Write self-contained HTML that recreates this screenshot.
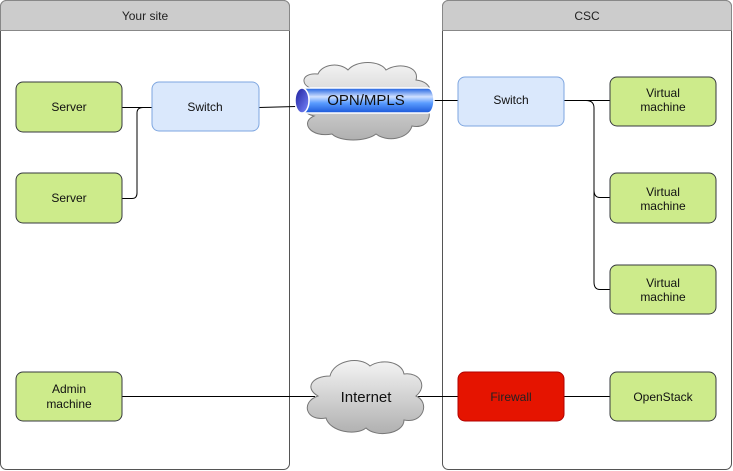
<!DOCTYPE html>
<html><head><meta charset="utf-8"><style>
html,body{margin:0;padding:0;background:#fff;}
svg{display:block;font-family:"Liberation Sans",Arial,sans-serif;}
</style></head><body>
<svg width="733" height="471" viewBox="0 0 733 471" xmlns="http://www.w3.org/2000/svg">
<defs>
<linearGradient id="cg" x1="0" y1="0" x2="0" y2="1">
<stop offset="0" stop-color="#f4f4f4"/><stop offset="1" stop-color="#b0b0b0"/></linearGradient>
<linearGradient id="pg" x1="0" y1="0" x2="0" y2="1">
<stop offset="0" stop-color="#1a5ee0"/><stop offset="0.35" stop-color="#cfe0ff"/><stop offset="0.6" stop-color="#5a9cff"/><stop offset="1" stop-color="#1a56d8"/></linearGradient>
<linearGradient id="eg" x1="0" y1="0" x2="1" y2="1">
<stop offset="0" stop-color="#1d1d9a"/><stop offset="1" stop-color="#7a8aff"/></linearGradient>
</defs>
<!-- containers -->
<rect x="0.5" y="0.5" width="289" height="469" rx="6" fill="#fff" stroke="#555"/>
<path d="M0.5 30.5 V6.5 A6 6 0 0 1 6.5 0.5 H283.5 A6 6 0 0 1 289.5 6.5 V30.5 Z" fill="#cccccc" stroke="#888"/>
<text x="145" y="20" font-size="12" text-anchor="middle" fill="#222">Your site</text>
<rect x="442.5" y="0.5" width="289" height="469" rx="6" fill="#fff" stroke="#555"/>
<path d="M442.5 30.5 V6.5 A6 6 0 0 1 448.5 0.5 H725.5 A6 6 0 0 1 731.5 6.5 V30.5 Z" fill="#cccccc" stroke="#888"/>
<text x="587" y="20" font-size="12" text-anchor="middle" fill="#222">CSC</text>
<!-- connectors -->
<g fill="none" stroke="#000" stroke-width="1">
<path d="M122 107.5 H152"/>
<path d="M122 198.5 H132 Q137 198.5 137 193 V113 Q137 107.5 143 107.5 H152"/>
<path d="M259 107.5 L296 106.5"/>
<path d="M433 100.5 H458"/>
<path d="M564 100.5 H610"/>
<path d="M586 100.5 Q594 100.5 594 108 V190 Q594 197.5 600 197.5 H610"/>
<path d="M594 190 V282 Q594 289.5 600 289.5 H610"/>
<path d="M122 396.5 H315"/>
<path d="M418 396.5 H458"/>
<path d="M564 396.5 H610"/>
</g>
<!-- nodes -->
<g stroke="#36393d" fill="#cdeb8b">
<rect x="16" y="82" width="106" height="50" rx="7"/>
<rect x="16" y="173" width="106" height="50" rx="7"/>
<rect x="16" y="372" width="106" height="49" rx="7"/>
<rect x="610" y="77" width="106" height="49" rx="7"/>
<rect x="610" y="173" width="106" height="50" rx="7"/>
<rect x="610" y="265" width="106" height="49" rx="7"/>
<rect x="610" y="372" width="106" height="49" rx="7"/>
</g>
<g stroke="#7ea6e0" fill="#dae8fc">
<rect x="152" y="82" width="107" height="49" rx="7"/>
<rect x="458" y="77" width="106" height="49" rx="7"/>
</g>
<rect x="458" y="372" width="106" height="49" rx="7" fill="#e51400" stroke="#b20000"/>
<g font-size="12" text-anchor="middle" fill="#111">
<text x="69" y="111">Server</text>
<text x="69" y="202">Server</text>
<text x="69" y="393">Admin</text><text x="69" y="408">machine</text>
<text x="205" y="111">Switch</text>
<text x="511" y="104">Switch</text>
<text x="663" y="97">Virtual</text><text x="663" y="111">machine</text>
<text x="663" y="196">Virtual</text><text x="663" y="210">machine</text>
<text x="663" y="287">Virtual</text><text x="663" y="301">machine</text>
<text x="663" y="401">OpenStack</text>
<text x="511" y="401" fill="#222">Firewall</text>
</g>
<!-- OPN cloud -->
<path d="M320 90 C300 90 298 72 318 74 C322 64 340 62 348 70 C356 60 380 60 386 70 C398 62 420 66 416 80 C434 82 434 98 420 100 C436 110 430 130 412 126 C408 140 386 142 376 134 C366 142 340 142 332 134 C310 138 300 122 314 116 C296 112 300 92 320 90 Z" fill="url(#cg)" stroke="#777"/>
<path d="M301 88 H428 A6 12.5 0 0 1 428 113 H301 Z" fill="url(#pg)" stroke="#fff" stroke-width="1.5"/>
<ellipse cx="302" cy="100.5" rx="7" ry="12.5" fill="url(#eg)" stroke="#fff" stroke-width="1.5"/>
<text x="366" y="105" font-size="15" text-anchor="middle" fill="#111">OPN/MPLS</text>
<!-- Internet cloud -->
<path d="M330 376 C312 376 304 388 318 396 C300 402 306 422 326 418 C330 432 356 436 366 428 C376 438 404 434 404 420 C424 424 430 402 416 396 C428 386 420 372 404 374 C402 362 382 358 370 366 C360 356 334 360 330 376 Z" fill="url(#cg)" stroke="#777"/>
<text x="366" y="402" font-size="15" text-anchor="middle" fill="#111">Internet</text>
</svg>
</body></html>
